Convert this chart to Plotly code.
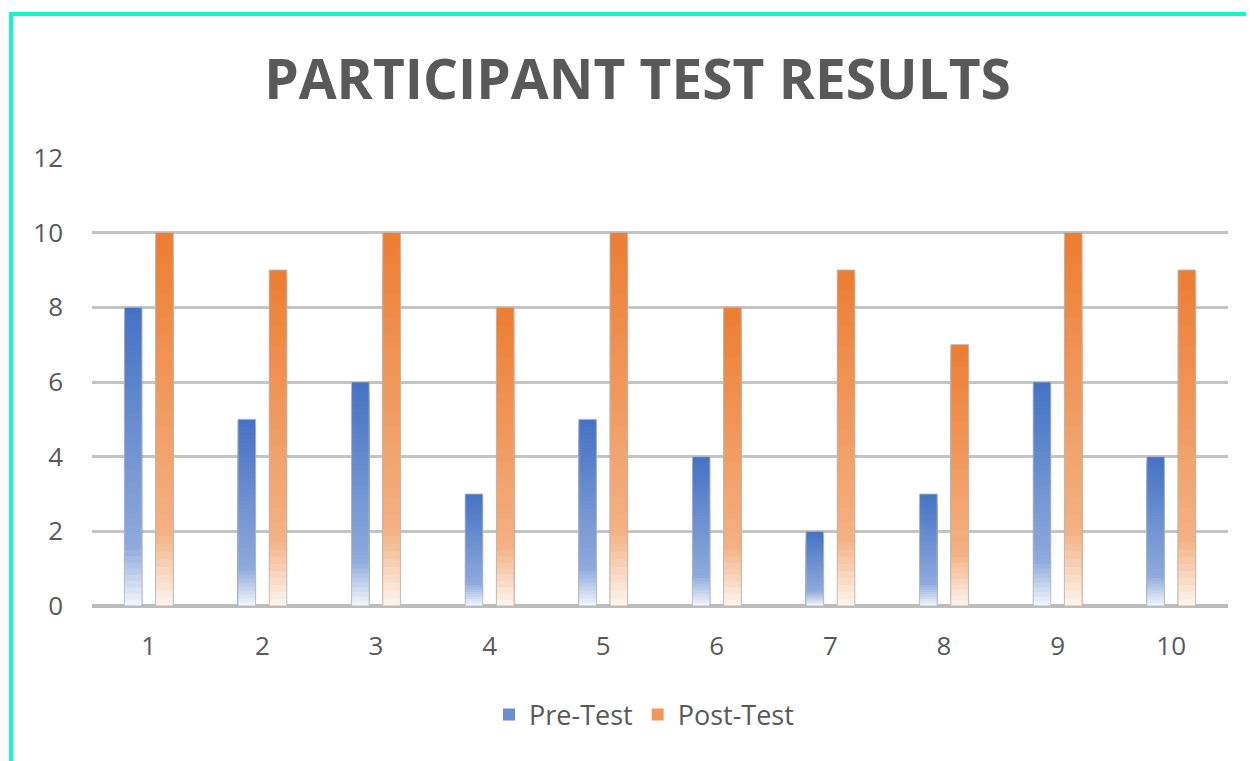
import plotly.graph_objects as go

# ---- data ----
participants = ["1", "2", "3", "4", "5", "6", "7", "8", "9", "10"]
pre_test = [8, 5, 6, 3, 5, 4, 2, 3, 6, 4]
post_test = [10, 9, 10, 8, 10, 8, 9, 7, 10, 9]
y_ticks = [0, 2, 4, 6, 8, 10, 12]

title_text = "PARTICIPANT TEST RESULTS"
series_names = ["Pre-Test", "Post-Test"]

# gradient stops (fraction of bar height from bottom, rgb)
blue_stops = [(0.0, (244, 247, 252)), (0.2, (143, 170, 220)), (1.0, (68, 114, 196))]
orange_stops = [(0.0, (254, 246, 240)), (0.2, (244, 177, 131)), (1.0, (237, 125, 49))]

N_SEG = 48


def color_at(stops, t):
    for (t0, c0), (t1, c1) in zip(stops[:-1], stops[1:]):
        if t0 <= t <= t1:
            f = (t - t0) / (t1 - t0)
            c = [round(a + (b - a) * f) for a, b in zip(c0, c1)]
            return "rgb(%d,%d,%d)" % tuple(c)
    return "rgb(%d,%d,%d)" % stops[-1][1]


fig = go.Figure()

for name, values, stops, grp, rank in [
    (series_names[0], pre_test, blue_stops, "pre", 1),
    (series_names[1], post_test, orange_stops, "post", 2),
]:
    # tallest first, shorter (lighter) bars drawn over the lower part -> gradient
    for k in reversed(range(N_SEG)):
        f_top = (k + 1) / N_SEG
        col = color_at(stops, (k + 0.5) / N_SEG)
        fig.add_trace(go.Bar(
            x=participants,
            y=[v * f_top for v in values],
            offsetgroup=grp,
            marker=dict(color=col, line=dict(width=0)),
            name=name,
            legendgroup=grp,
            showlegend=(k == int(N_SEG * 0.6)),
            legendrank=rank,
            hoverinfo="skip",
        ))
    # outline bar carrying the values
    fig.add_trace(go.Bar(
        x=participants,
        y=values,
        offsetgroup=grp,
        marker=dict(color="rgba(0,0,0,0)", line=dict(color="rgba(185,185,185,0.9)", width=1)),
        name=name,
        legendgroup=grp,
        showlegend=False,
        hovertemplate=name + " %{x}: %{y}<extra></extra>",
    ))

OFF = 8  # page body margin
W, H = 1254 - OFF, 761 - OFF
L, R, T, B = 92 - OFF, 26, 158 - OFF, 155
pw, ph = W - L - R, H - T - B


def px_x(px):
    return (px - OFF - L) / pw


def px_y(py):
    return (H - B - (py - OFF)) / ph


border_col = "rgb(20,245,200)"
fig.add_shape(type="line", xref="paper", yref="paper",
              x0=px_x(9), x1=px_x(1260), y0=px_y(14), y1=px_y(14),
              line=dict(color=border_col, width=4))
fig.add_shape(type="line", xref="paper", yref="paper",
              x0=px_x(11), x1=px_x(11), y0=px_y(12), y1=px_y(770),
              line=dict(color=border_col, width=4))

font_family = "Open Sans, DejaVu Sans, sans-serif"
grey = "#595959"

fig.update_layout(
    width=W, height=H,
    margin=dict(l=L, r=R, t=T, b=B),
    paper_bgcolor="white",
    plot_bgcolor="white",
    barmode="group",
    bargap=0.45,
    bargroupgap=0.435,
    title=dict(text="<b>" + title_text + "</b>", x=(637.5 - OFF) / W, xanchor="center",
               y=1 - (80 - OFF) / H, yanchor="middle",
               font=dict(family=font_family, size=55, color=grey)),
    font=dict(family=font_family, color=grey, size=26),
    legend=dict(orientation="h", x=px_x(644), xanchor="center",
                y=px_y(715), yanchor="middle",
                font=dict(size=27, color=grey), itemwidth=30,
                traceorder="normal"),
    xaxis=dict(type="category", showgrid=False, showline=False, ticks="",
               tickfont=dict(size=26, color=grey), ticklabelstandoff=22),
    yaxis=dict(range=[0, 12], tickvals=y_ticks, showgrid=True,
               gridcolor="rgb(196,196,196)", gridwidth=3,
               zeroline=True, zerolinecolor="rgb(188,188,188)", zerolinewidth=4,
               showline=False, ticks="", ticklabelstandoff=28,
               tickfont=dict(size=26, color=grey)),
)

fig.write_html("out.html")
